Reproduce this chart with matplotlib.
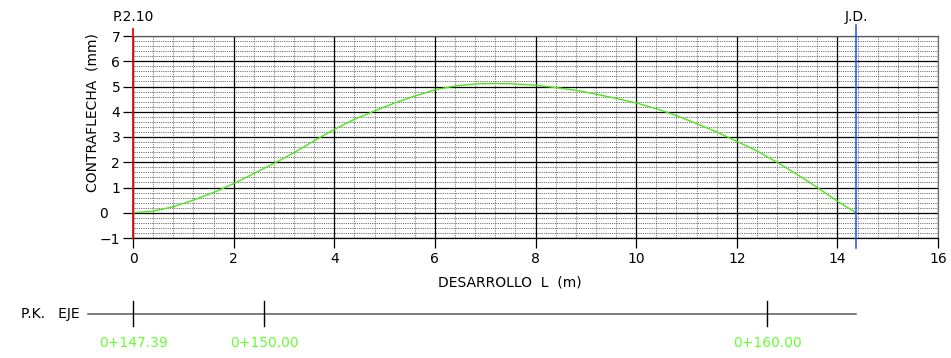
import matplotlib
matplotlib.use("Agg")
import matplotlib.pyplot as plt
from matplotlib.transforms import blended_transform_factory
import numpy as np

# Camber profile along the beam: development length (m) vs camber (mm)
desarrollo = [0.0, 0.4, 0.8, 1.2, 1.6, 2.0, 2.4, 2.8, 3.2, 3.6, 4.0, 4.4, 4.8,
              5.2, 5.6, 6.0, 6.4, 6.8, 7.2, 7.6, 8.0, 8.4, 8.8, 9.2, 9.6,
              10.0, 10.4, 10.8, 11.2, 11.6, 12.0, 12.4, 12.8, 13.2, 13.6,
              14.0, 14.37]
contraflecha = [0.0, 0.06, 0.24, 0.5, 0.8, 1.15, 1.55, 1.95, 2.38, 2.85, 3.3,
                3.7, 4.03, 4.35, 4.62, 4.87, 5.02, 5.1, 5.12, 5.1, 5.05, 4.96,
                4.85, 4.7, 4.53, 4.35, 4.12, 3.85, 3.53, 3.2, 2.83, 2.45,
                2.0, 1.52, 1.0, 0.46, 0.0]

# Chainage (P.K.) of the axis
pk_inicio = 147.39
pk_fin = 161.76
pk_marcas = [147.39, 150.00, 160.00]

# Axis tick values
x_ticks = [0, 2, 4, 6, 8, 10, 12, 14, 16]
y_ticks = [-1, 0, 1, 2, 3, 4, 5, 6, 7]

FS = 10
W, H = 951, 358
plt.rcParams['font.family'] = ['DejaVu Sans']
fig = plt.figure(figsize=(W / 100, H / 100), dpi=100)

left, right, top, bottom = 133, 938, 36, 238
ax = fig.add_axes([left / W, 1 - bottom / H, (right - left) / W, (bottom - top) / H])
ax.set_xlim(0, 16)
ax.set_ylim(-1, 7)

# Grid: dotted minor mesh and solid major lines
for xv in np.arange(0, 16.01, 0.4):
    if abs(xv / 2 - round(xv / 2)) > 1e-6:
        ax.axvline(xv, color='0.5', lw=0.7, ls=(0, (1.2, 1.2)), zorder=1)
for yv in np.arange(-1, 7.01, 0.2):
    if abs(yv - round(yv)) > 1e-6:
        ax.axhline(yv, color='0.25', lw=0.6, ls=(0, (1, 1.2)), zorder=1)
for xv in x_ticks:
    ax.axvline(xv, color='black', lw=0.9, zorder=2)
for yv in y_ticks:
    ax.axhline(yv, color='black', lw=0.9, zorder=2)

for s in ax.spines.values():
    s.set_color('black')
    s.set_linewidth(0.9)
ax.spines['right'].set_color('0.45')
ax.spines['top'].set_color('0.35')

ax.set_xticks(x_ticks)
ax.set_yticks(y_ticks)
ax.set_yticklabels(['\u22121'] + [str(v) for v in y_ticks[1:]])
ax.tick_params(axis='both', direction='out', length=7.2, width=0.9,
               labelsize=FS, color='black', pad=2)
ax.tick_params(axis='x', pad=3)
# Longer tick and label offset at zero camber
zero_tick = ax.yaxis.get_major_ticks()[1]
zero_tick.tick1line.set_markersize(16.5)
zero_tick.set_pad(11)

ax.set_xlabel('DESARROLLO  L  (m)', fontsize=FS)
ax.xaxis.set_label_coords((510 - left) / (right - left), -(275 - bottom) / (bottom - top))
ax.set_ylabel('CONTRAFLECHA  (mm)', fontsize=FS)
ax.yaxis.set_label_coords(-(left - 99) / (right - left), (bottom - 113) / (bottom - top))

# Camber curve
ax.plot(desarrollo, contraflecha, color='#4ce61a', lw=1.0, zorder=4)

# Reference lines at start (P.2.10) and end (J.D.)
fy = lambda py: 1 - py / H
tr = blended_transform_factory(ax.transData, fig.transFigure)
ax.plot([0, 0], [fy(29), fy(238)], color='#e01010', lw=1.3, transform=tr,
        clip_on=False, zorder=5)
ax.plot([pk_fin - pk_inicio] * 2, [fy(25), fy(248)], color='#1a4dff', lw=1.1,
        transform=tr, clip_on=False, zorder=5)
ax.text(0, fy(17), 'P.2.10', transform=tr, ha='center', va='center', fontsize=FS)
ax.text(pk_fin - pk_inicio, fy(17), 'J.D.', transform=tr, ha='center',
        va='center', fontsize=FS)

# Chainage band
x_left_band = -(left - 88) / ((right - left) / 16)
ax.plot([x_left_band, pk_fin - pk_inicio], [fy(314), fy(314)], color='0.35',
        lw=1.1, transform=tr, clip_on=False)
ax.text(-(left - 80) / ((right - left) / 16), fy(314), 'P.K.   EJE', transform=tr,
        ha='right', va='center', fontsize=FS)
for pk in pk_marcas:
    xp = pk - pk_inicio
    ax.plot([xp, xp], [fy(301), fy(326)], color='black', lw=1.0,
            transform=tr, clip_on=False)
    ax.text(xp, fy(343), '0+%.2f' % pk, transform=tr, ha='center',
            va='center', fontsize=FS, color='#66ff33')

fig.savefig('out.png', dpi=100)
